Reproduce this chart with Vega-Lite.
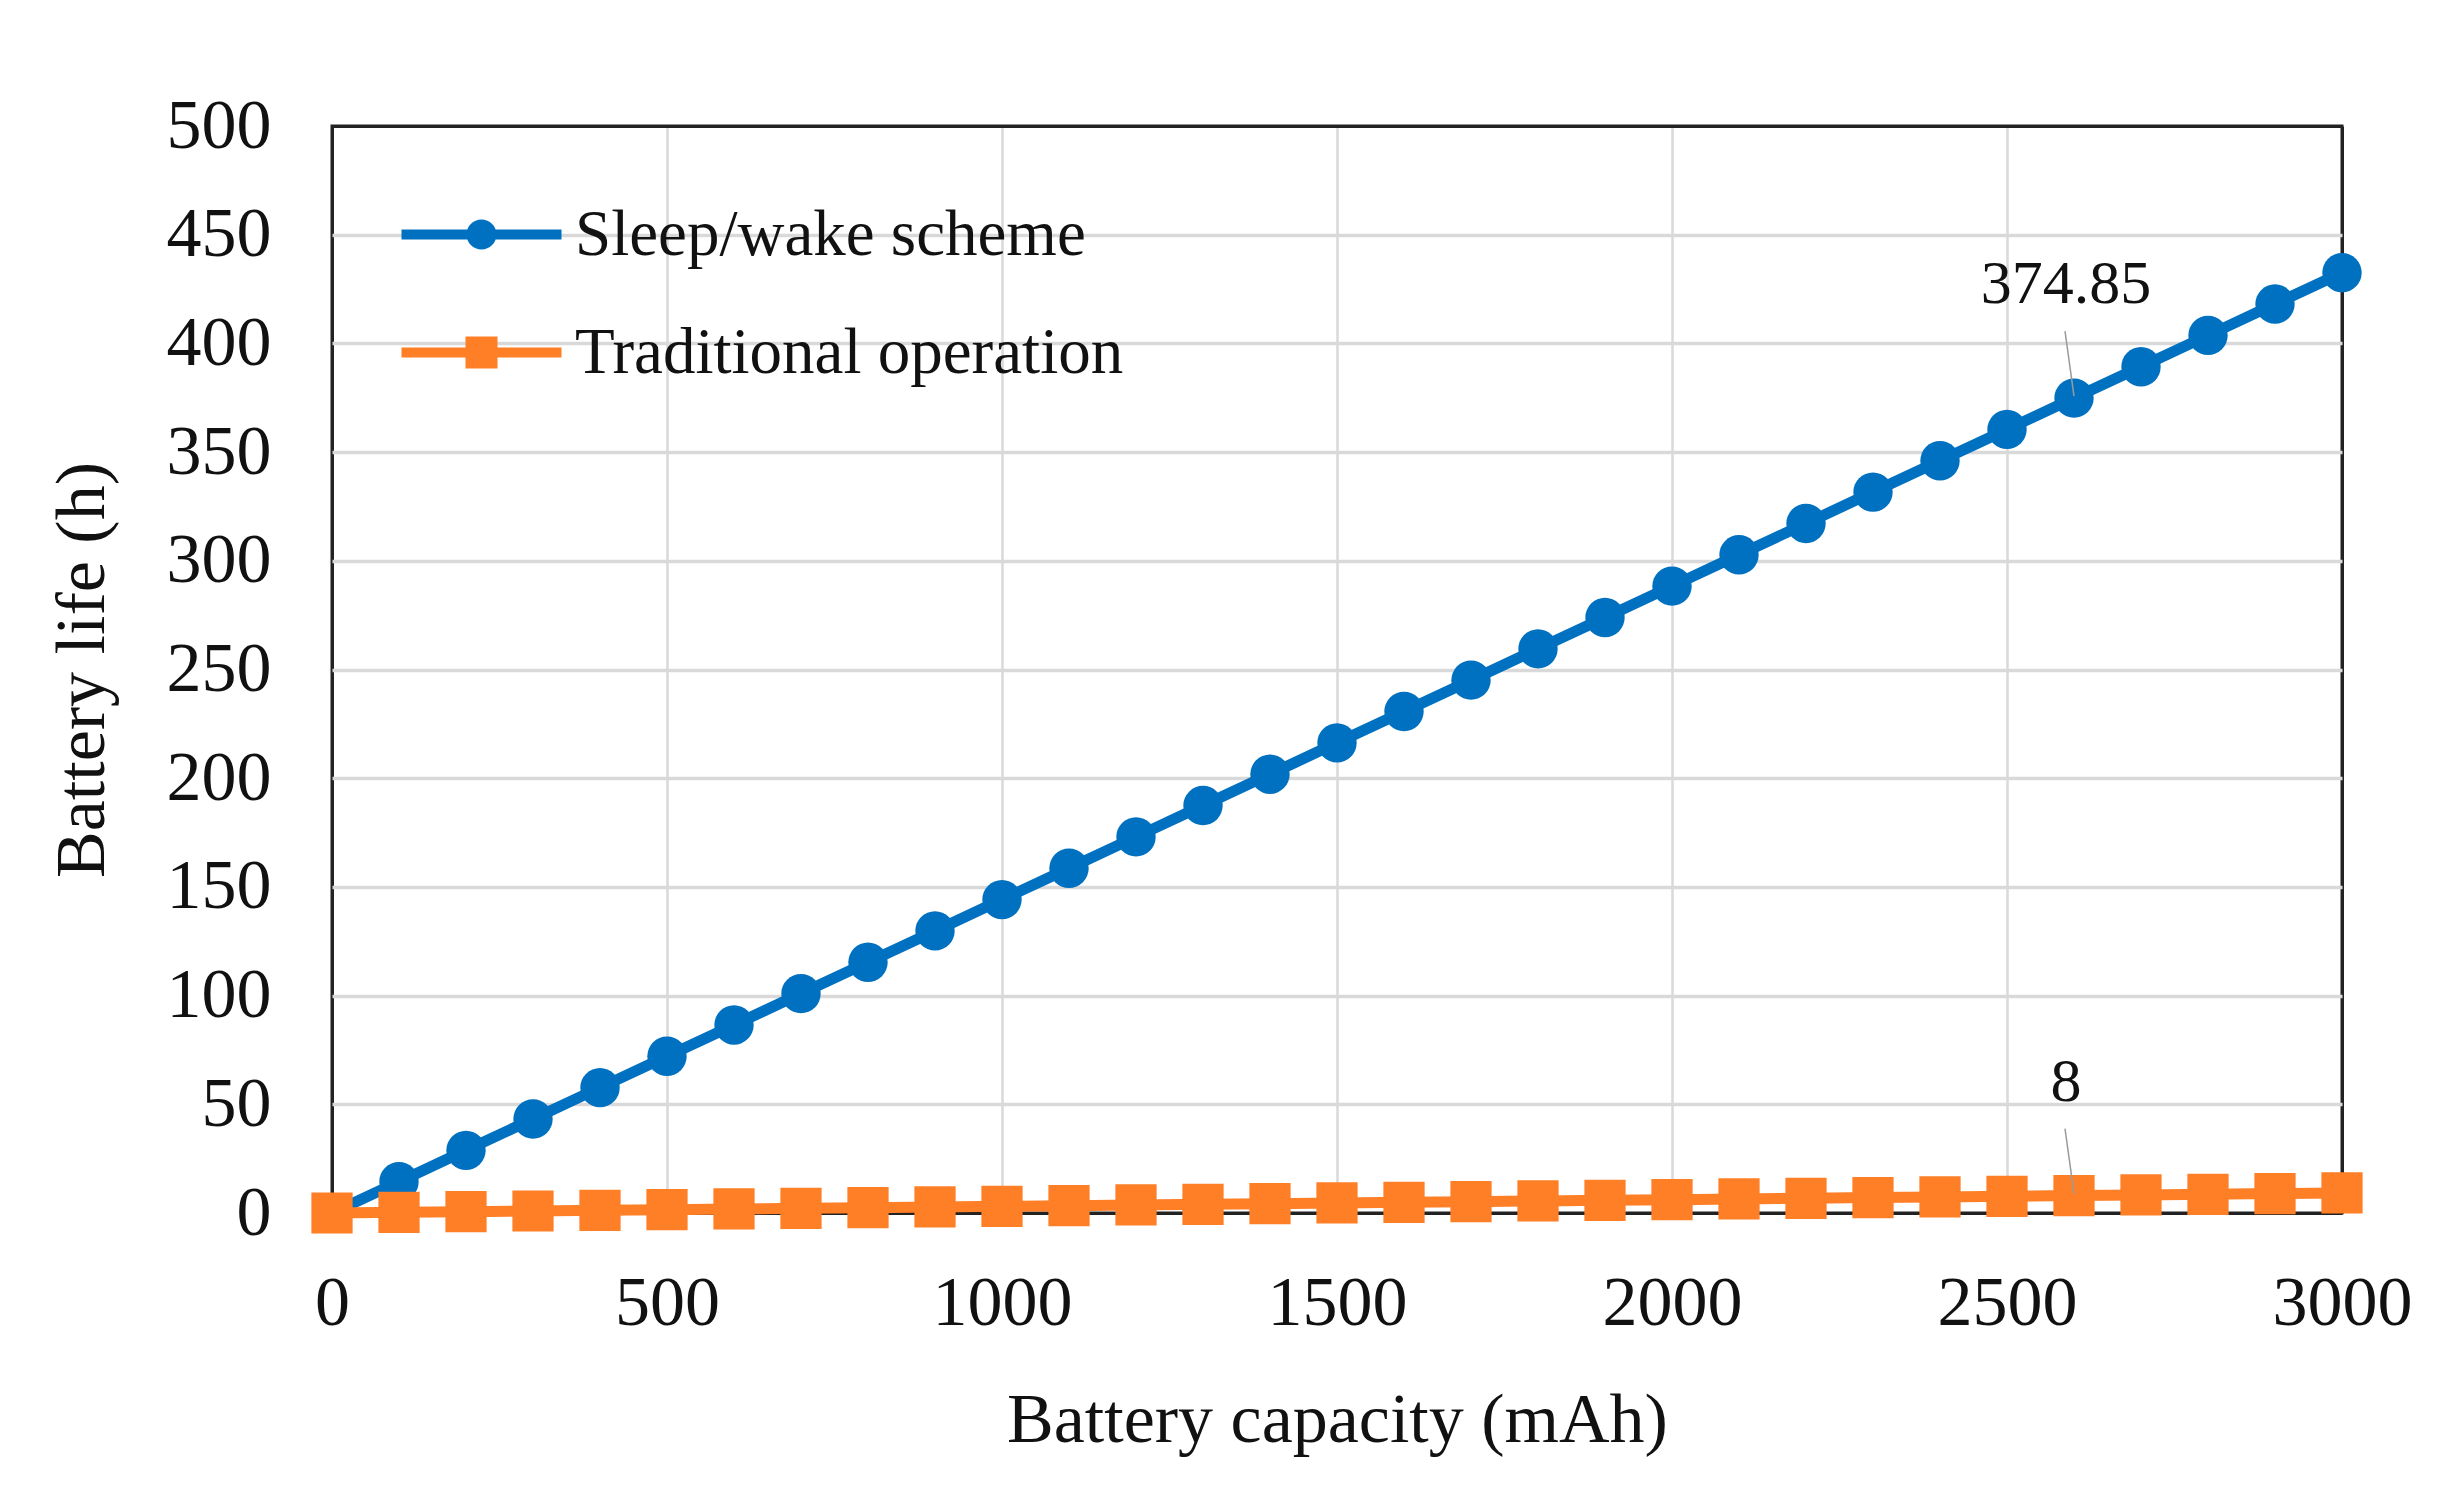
{
  "$schema": "https://vega.github.io/schema/vega-lite/v6.json",
  "autosize": {"type": "none"},
  "padding": {"left": 332, "top": 126, "right": 115, "bottom": 294},
  "width": 2010,
  "height": 1087,
  "background": "white",
  "data": {
    "values": [
      {"capacity": 0, "life": 0, "series": "Sleep/wake scheme"},
      {"capacity": 100, "life": 14.42, "series": "Sleep/wake scheme"},
      {"capacity": 200, "life": 28.83, "series": "Sleep/wake scheme"},
      {"capacity": 300, "life": 43.25, "series": "Sleep/wake scheme"},
      {"capacity": 400, "life": 57.67, "series": "Sleep/wake scheme"},
      {"capacity": 500, "life": 72.09, "series": "Sleep/wake scheme"},
      {"capacity": 600, "life": 86.5, "series": "Sleep/wake scheme"},
      {"capacity": 700, "life": 100.92, "series": "Sleep/wake scheme"},
      {"capacity": 800, "life": 115.34, "series": "Sleep/wake scheme"},
      {"capacity": 900, "life": 129.76, "series": "Sleep/wake scheme"},
      {"capacity": 1000, "life": 144.17, "series": "Sleep/wake scheme"},
      {"capacity": 1100, "life": 158.59, "series": "Sleep/wake scheme"},
      {"capacity": 1200, "life": 173.01, "series": "Sleep/wake scheme"},
      {"capacity": 1300, "life": 187.42, "series": "Sleep/wake scheme"},
      {"capacity": 1400, "life": 201.84, "series": "Sleep/wake scheme"},
      {"capacity": 1500, "life": 216.26, "series": "Sleep/wake scheme"},
      {"capacity": 1600, "life": 230.68, "series": "Sleep/wake scheme"},
      {"capacity": 1700, "life": 245.09, "series": "Sleep/wake scheme"},
      {"capacity": 1800, "life": 259.51, "series": "Sleep/wake scheme"},
      {"capacity": 1900, "life": 273.93, "series": "Sleep/wake scheme"},
      {"capacity": 2000, "life": 288.35, "series": "Sleep/wake scheme"},
      {"capacity": 2100, "life": 302.76, "series": "Sleep/wake scheme"},
      {"capacity": 2200, "life": 317.18, "series": "Sleep/wake scheme"},
      {"capacity": 2300, "life": 331.6, "series": "Sleep/wake scheme"},
      {"capacity": 2400, "life": 346.02, "series": "Sleep/wake scheme"},
      {"capacity": 2500, "life": 360.43, "series": "Sleep/wake scheme"},
      {"capacity": 2600, "life": 374.85, "series": "Sleep/wake scheme"},
      {"capacity": 2700, "life": 389.27, "series": "Sleep/wake scheme"},
      {"capacity": 2800, "life": 403.69, "series": "Sleep/wake scheme"},
      {"capacity": 2900, "life": 418.1, "series": "Sleep/wake scheme"},
      {"capacity": 3000, "life": 432.52, "series": "Sleep/wake scheme"},
      {"capacity": 0, "life": 0, "series": "Traditional operation"},
      {"capacity": 100, "life": 0.31, "series": "Traditional operation"},
      {"capacity": 200, "life": 0.62, "series": "Traditional operation"},
      {"capacity": 300, "life": 0.92, "series": "Traditional operation"},
      {"capacity": 400, "life": 1.23, "series": "Traditional operation"},
      {"capacity": 500, "life": 1.54, "series": "Traditional operation"},
      {"capacity": 600, "life": 1.85, "series": "Traditional operation"},
      {"capacity": 700, "life": 2.15, "series": "Traditional operation"},
      {"capacity": 800, "life": 2.46, "series": "Traditional operation"},
      {"capacity": 900, "life": 2.77, "series": "Traditional operation"},
      {"capacity": 1000, "life": 3.08, "series": "Traditional operation"},
      {"capacity": 1100, "life": 3.38, "series": "Traditional operation"},
      {"capacity": 1200, "life": 3.69, "series": "Traditional operation"},
      {"capacity": 1300, "life": 4.0, "series": "Traditional operation"},
      {"capacity": 1400, "life": 4.31, "series": "Traditional operation"},
      {"capacity": 1500, "life": 4.62, "series": "Traditional operation"},
      {"capacity": 1600, "life": 4.92, "series": "Traditional operation"},
      {"capacity": 1700, "life": 5.23, "series": "Traditional operation"},
      {"capacity": 1800, "life": 5.54, "series": "Traditional operation"},
      {"capacity": 1900, "life": 5.85, "series": "Traditional operation"},
      {"capacity": 2000, "life": 6.15, "series": "Traditional operation"},
      {"capacity": 2100, "life": 6.46, "series": "Traditional operation"},
      {"capacity": 2200, "life": 6.77, "series": "Traditional operation"},
      {"capacity": 2300, "life": 7.08, "series": "Traditional operation"},
      {"capacity": 2400, "life": 7.38, "series": "Traditional operation"},
      {"capacity": 2500, "life": 7.69, "series": "Traditional operation"},
      {"capacity": 2600, "life": 8, "series": "Traditional operation"},
      {"capacity": 2700, "life": 8.31, "series": "Traditional operation"},
      {"capacity": 2800, "life": 8.62, "series": "Traditional operation"},
      {"capacity": 2900, "life": 8.92, "series": "Traditional operation"},
      {"capacity": 3000, "life": 9.23, "series": "Traditional operation"}
    ]
  },
  "encoding": {
    "x": {
      "field": "capacity",
      "type": "quantitative",
      "scale": {"domain": [0, 3000], "nice": false},
      "axis": {
        "title": "Battery capacity (mAh)",
        "values": [0, 500, 1000, 1500, 2000, 2500, 3000],
        "format": "d",
        "labelFlush": false,
        "labelPadding": 56,
        "titlePadding": 48,
        "gridWidth": {"condition": {"test": "datum.value == 0 || datum.value == 3000", "value": 3}, "value": 2.5},
        "gridColor": {"condition": {"test": "datum.value == 0 || datum.value == 3000", "value": "#222"}, "value": "#D9D9D9"}
      }
    },
    "y": {
      "field": "life",
      "type": "quantitative",
      "scale": {"domain": [0, 500], "nice": false},
      "axis": {
        "title": "Battery life (h)",
        "values": [0, 50, 100, 150, 200, 250, 300, 350, 400, 450, 500],
        "labelPadding": 61,
        "titlePadding": 48,
        "gridWidth": {"condition": {"test": "datum.value == 0 || datum.value == 500", "value": 3}, "value": 3.5},
        "gridColor": {"condition": {"test": "datum.value == 0 || datum.value == 500", "value": "#222"}, "value": "#D9D9D9"}
      }
    }
  },
  "layer": [
    {
      "transform": [{"filter": "datum.series == 'Sleep/wake scheme'"}],
      "mark": {"type": "line", "strokeWidth": 11, "color": "#0070C0"},
      "encoding": {}
    },
    {
      "transform": [{"filter": "datum.series == 'Sleep/wake scheme'"}],
      "mark": {"type": "point", "shape": "circle", "filled": true, "opacity": 1, "size": 1550, "color": "#0070C0"},
      "encoding": {}
    },
    {
      "transform": [{"filter": "datum.series == 'Traditional operation'"}],
      "mark": {"type": "line", "strokeWidth": 11, "color": "#FF7F27"},
      "encoding": {}
    },
    {
      "transform": [{"filter": "datum.series == 'Traditional operation'"}],
      "mark": {"type": "point", "shape": "square", "filled": true, "opacity": 1, "size": 1700, "color": "#FF7F27"},
      "encoding": {}
    },
    {
      "mark": {"type": "point", "filled": true, "opacity": 0, "size": 1600},
      "encoding": {
        "color": {
          "field": "series",
          "type": "nominal",
          "scale": {"domain": ["Sleep/wake scheme", "Traditional operation"], "range": ["#0070C0", "#FF7F27"]},
          "legend": {
            "title": null,
            "orient": "none",
            "legendX": 117,
            "legendY": 76,
            "padding": 0,
            "rowPadding": 52,
            "labelOffset": 61,
            "labelFont": "Liberation Serif",
            "labelFontSize": 65,
            "labelColor": "#111",
            "labelLimit": 900,
            "symbolSize": 1600,
            "symbolOpacity": 1,
            "symbolStrokeWidth": 0
          }
        },
        "shape": {
          "field": "series",
          "type": "nominal",
          "scale": {
            "domain": ["Sleep/wake scheme", "Traditional operation"],
            "range": [
              "M-4,-0.25H4V0.25H-4Z M0,-0.75A0.75,0.75 0 1,1 0,0.75A0.75,0.75 0 1,1 0,-0.75Z",
              "M-4,-0.25H4V0.25H-4Z M-0.8,-0.8H0.8V0.8H-0.8Z"
            ]
          },
          "legend": {
            "title": null,
            "orient": "none",
            "legendX": 117,
            "legendY": 76,
            "padding": 0,
            "rowPadding": 52,
            "labelOffset": 61,
            "labelFont": "Liberation Serif",
            "labelFontSize": 65,
            "labelColor": "#111",
            "labelLimit": 900,
            "symbolSize": 1600,
            "symbolOpacity": 1,
            "symbolStrokeWidth": 0
          }
        }
      }
    },
    {
      "transform": [{"filter": "datum.capacity == 2600"}],
      "mark": {"type": "rule", "color": "#9A9A9A", "strokeWidth": 1.5, "yOffset": -2, "x2Offset": -9, "y2Offset": -67},
      "encoding": {
        "x2": {"field": "capacity"},
        "y2": {"field": "life"}
      }
    },
    {
      "transform": [{"filter": "datum.capacity == 2600"}],
      "mark": {"type": "text", "font": "Liberation Serif", "fontSize": 62, "color": "#111", "dx": -8, "dy": -114, "baseline": "middle", "align": "center"},
      "encoding": {
        "text": {"field": "life", "type": "quantitative", "format": "~r"}
      }
    }
  ],
  "config": {
    "view": {"stroke": "#222", "strokeWidth": 3},
    "axis": {
      "labelFont": "Liberation Serif",
      "labelFontSize": 70,
      "labelColor": "#111",
      "titleFont": "Liberation Serif",
      "titleFontSize": 70,
      "titleFontWeight": "normal",
      "titleColor": "#111",
      "ticks": false,
      "domain": false
    },
    "axisY": {"labelAlign": "right"}
  }
}
